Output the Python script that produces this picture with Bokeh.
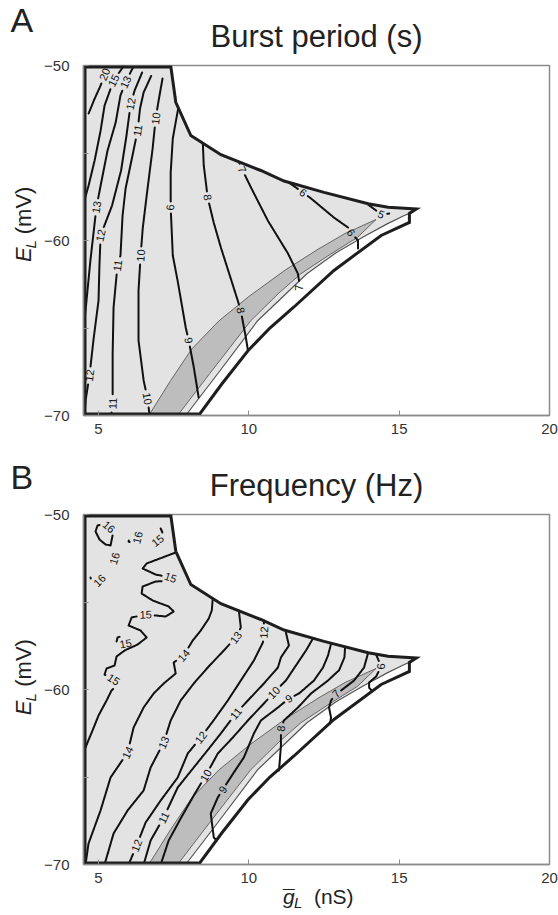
import numpy as np
from bokeh.plotting import figure
from bokeh.layouts import column, row
from bokeh.models import Range1d, FixedTicker, ColumnDataSource
from bokeh.core.properties import value
from bokeh.embed import file_html
from bokeh.resources import INLINE

# ---------------- axes ----------------
X_LIM = (4.5, 20.0)
Y_LIM = (-70.0, -50.0)
X_TICKS = [5, 10, 15, 20]
Y_TICKS = [-70, -60, -50]
Y_MINOR = [-65, -55]

# ---------------- region (same parameter domain in both panels) ----------------
UPPER_X = [7.4, 7.57, 8.07, 9.07, 10.4, 11.17, 12.5, 13.97, 14.63, 15.57]
UPPER_Y = [-50.0, -52.1, -54.0, -55.1, -56.0, -56.6, -57.25, -57.9, -58.1, -58.2]
INNER_X = [15.34, 15.17, 14.6, 13.8, 12.9, 11.93, 11.2, 10.3, 8.97, 7.9]
INNER_Y = [-58.45, -58.57, -59.05, -59.8, -60.7, -61.9, -63.1, -64.57, -67.6, -70.0]
OUTER_X = [15.34, 15.34, 14.4, 12.83, 11.5, 10.7, 9.97, 9.1, 8.33]
OUTER_Y = [-58.45, -58.97, -59.71, -61.71, -63.8, -65.0, -66.3, -68.2, -70.0]
BAND_UP_X = [6.67, 7.4, 8.1, 9.0, 10.0, 11.2, 12.3, 13.2, 14.23]
BAND_UP_Y = [-70.0, -68.0, -66.2, -64.6, -63.2, -61.7, -60.5, -59.6, -58.8]
BAND_LO_X = [7.63, 8.7, 10.07, 11.0, 11.73, 12.7, 13.62, 14.23]
BAND_LO_Y = [-70.0, -67.6, -64.57, -63.0, -61.9, -60.8, -59.81, -58.8]

# ---------------- panel A: burst period contours (s) ----------------
A20_X = [4.67, 4.87, 5.07, 5.2, 5.33]
A20_Y = [-52.74, -51.9, -51.14, -50.5, -50.05]
A15_X = [5.83, 5.5, 5.2, 5.07, 4.87, 4.67, 4.53]
A15_Y = [-50.05, -50.86, -52.29, -53.71, -55.43, -56.86, -57.71]
A13_X = [6.15, 5.9, 5.73, 5.57, 5.3, 5.07, 4.93, 4.73, 4.6, 4.5]
A13_Y = [-50.1, -50.95, -51.71, -53.26, -54.86, -56.86, -58.1, -61.14, -63.43, -65.1]
A12_X = [6.45, 6.2, 6.07, 5.93, 5.75, 5.45, 5.07, 5.03, 5.0, 4.83, 4.7, 4.57, 4.53]
A12_Y = [-50.4, -51.43, -52.19, -54.0, -56.0, -58.0, -59.71, -61.43, -63.43, -65.71, -67.71, -69.14, -70.0]
A11_X = [6.75, 6.5, 6.38, 6.3, 6.13, 5.9, 5.8, 5.73, 5.63, 5.5, 5.47, 5.47, 5.42]
A11_Y = [-50.6, -51.54, -52.46, -53.71, -55.14, -57.03, -58.57, -60.86, -61.43, -63.83, -66.46, -69.31, -70.0]
A10_X = [7.13, 7.07, 6.97, 6.9, 6.8, 6.63, 6.47, 6.4, 6.33, 6.33, 6.5, 6.63, 6.7]
A10_Y = [-50.74, -51.31, -52.29, -53.03, -54.74, -57.03, -59.31, -60.86, -62.86, -65.71, -68.0, -69.03, -70.0]
A9_X = [7.65, 7.47, 7.4, 7.4, 7.47, 7.63, 7.9, 8.0, 8.17, 8.33]
A9_Y = [-52.45, -54.17, -56.11, -58.11, -60.86, -62.29, -64.97, -65.71, -67.26, -68.97]
A8_X = [8.47, 8.5, 8.63, 8.83, 9.07, 9.63, 9.73, 9.9, 9.97]
A8_Y = [-54.45, -55.71, -57.54, -58.97, -60.4, -63.43, -64.0, -65.54, -66.29]
A7_X = [9.68, 9.78, 10.07, 10.63, 11.3, 11.63, 11.67, 11.67]
A7_Y = [-55.55, -55.95, -56.97, -58.86, -60.74, -61.89, -62.3, -62.69]
A6_X = [11.3, 11.8, 12.07, 12.83, 13.3, 13.4, 13.63, 13.63]
A6_Y = [-56.65, -57.26, -57.6, -58.69, -59.26, -59.54, -60.0, -60.46]
A5_X = [13.97, 14.4, 14.67]
A5_Y = [-57.95, -58.5, -58.46]

# ---------------- panel B: frequency contours (Hz) ----------------
B16A_X = [5.467, 5.433, 5.4, 5.233, 5.033, 4.9, 4.967, 5.2, 5.35, 5.45]
B16A_Y = [-51.2, -51.486, -51.771, -51.714, -51.429, -50.971, -50.629, -50.514, -50.7, -50.9]
B16B_X = [6.033, 6.0, 6.133, 6.267, 6.3, 6.33]
B16B_Y = [-51.257, -51.543, -51.657, -51.543, -51.314, -51.1]
B16C_X = [5.333, 5.233, 5.3, 5.467, 5.533, 5.55]
B16C_Y = [-52.343, -52.457, -52.686, -52.743, -52.514, -52.3]
B16D_X = [4.833, 4.733, 4.767, 4.933, 5.033, 5.1]
B16D_Y = [-53.486, -53.6, -53.829, -53.886, -53.771, -53.6]
B15_X = [7.567, 6.6, 6.467, 6.9, 7.4, 7.467, 6.9, 6.467, 6.433, 6.8, 7.333, 7.5, 7.233, 6.567,
         6.1, 6.0, 6.4, 6.6, 6.3, 5.867, 5.6, 5.533, 5.267, 5.2, 5.5, 5.667, 5.433, 5.267, 5.0,
         4.8, 4.633, 4.5]
B15_Y = [-52.171, -52.8, -53.086, -53.429, -53.6, -53.771, -53.829, -54.114, -54.514, -54.914,
         -55.257, -55.543, -55.829, -55.714, -55.886, -56.343, -56.629, -57.029, -57.429, -57.771,
         -58.114, -58.629, -58.8, -59.143, -59.429, -59.657, -60.057, -60.629, -61.486, -62.343,
         -63.029, -63.6]
B15B_X = [5.833, 5.633, 5.6, 5.9, 6.0]
B15B_Y = [-56.914, -57.029, -57.257, -57.371, -57.143]
B15C_X = [7.067, 7.167, 6.967, 6.733]
B15C_Y = [-50.8, -51.2, -51.486, -51.771]
B14_X = [8.8, 8.767, 8.667, 8.4, 8.133, 7.833, 7.5, 7.567, 7.167, 6.833, 6.5, 6.167, 5.967, 5.4,
         5.067, 4.667, 4.567]
B14_Y = [-54.8, -55.486, -55.943, -56.629, -57.2, -58.057, -58.457, -59.086, -59.657, -60.229,
         -61.029, -62.171, -63.6, -65.029, -66.914, -68.8, -70.0]
B13_X = [9.667, 9.733, 9.567, 9.167, 8.633, 8.167, 7.733, 7.4, 7.167, 6.733, 6.5, 5.967, 5.5, 5.2]
B13_Y = [-55.486, -56.457, -57.029, -57.771, -58.743, -59.657, -60.629, -61.771, -63.029, -64.457,
         -65.771, -66.914, -68.229, -70.0]
B12_X = [10.5, 10.5, 10.467, 10.167, 9.733, 9.3, 8.8, 8.4, 7.967, 7.633, 7.067, 6.567, 6.267, 6.0]
B12_Y = [-56.057, -56.743, -57.314, -58.343, -59.486, -60.629, -61.829, -62.743, -63.657, -65.029,
         -66.343, -67.6, -68.914, -70.0]
B11_X = [11.233, 11.333, 11.067, 10.967, 10.5, 9.967, 9.567, 9.067, 8.567, 8.167, 7.633, 7.167,
         6.733, 6.5]
B11_Y = [-56.743, -57.486, -58.171, -58.743, -59.657, -60.629, -61.371, -62.514, -63.6, -64.457,
         -65.6, -67.314, -68.629, -70.0]
B10_X = [12.133, 11.9, 11.633, 11.233, 10.833, 10.5, 9.967, 9.467, 8.967, 8.567, 8.167, 7.733,
         7.333, 7.067]
B10_Y = [-57.086, -57.771, -58.457, -59.486, -60.171, -60.8, -61.771, -62.743, -63.657, -64.914,
         -66.057, -67.371, -68.629, -70.0]
B9_X = [12.733, 12.633, 12.467, 12.167, 11.667, 11.333, 10.967, 10.4, 10.167, 9.833, 9.5, 9.133,
        8.967, 8.733, 8.833, 8.933]
B9_Y = [-57.4, -58.057, -58.743, -59.486, -60.229, -60.514, -61.029, -61.771, -62.514, -63.886,
        -64.743, -65.714, -66.171, -67.086, -68.457, -68.629]
B8_X = [13.2, 13.18, 13.0, 12.633, 12.067, 11.633, 11.167, 11.067, 11.067, 11.03, 11.0]
B8_Y = [-57.6, -58.17, -58.9, -59.486, -60.229, -61.029, -61.771, -62.229, -63.2, -64.06, -64.63]
B7_X = [13.967, 13.833, 13.5, 13.067, 12.9, 12.733, 12.667, 12.733, 12.7]
B7_Y = [-57.9, -58.743, -59.486, -60.057, -60.229, -60.629, -61.029, -61.6, -61.943]
B6_X = [14.233, 14.4, 14.233, 14.0, 14.0, 14.08]
B6_Y = [-58.0, -58.686, -59.257, -59.6, -59.9, -60.05]

# (level, x, y, indices of the points that carry the inline label)
CONTOURS_A = [
    (20, A20_X, A20_Y, [3]), (15, A15_X, A15_Y, [1]), (13, A13_X, A13_Y, [1, 6]),
    (12, A12_X, A12_Y, [2, 6, 10]), (11, A11_X, A11_Y, [3, 8, 11]),
    (10, A10_X, A10_Y, [3, 7, 11]), (9, A9_X, A9_Y, [3, 7]), (8, A8_X, A8_Y, [2, 6]),
    (7, A7_X, A7_Y, [1, 7]), (6, A6_X, A6_Y, [1, 5]), (5, A5_X, A5_Y, [1]),
]
CONTOURS_B = [
    (16, B16A_X, B16A_Y, [8]), (16, B16B_X, B16B_Y, [4]), (16, B16C_X, B16C_Y, [4]),
    (16, B16D_X, B16D_Y, [4]), (15, B15_X, B15_Y, [4, 13, 24]), (15, B15B_X, B15B_Y, [3]),
    (15, B15C_X, B15C_Y, [2]), (14, B14_X, B14_Y, [5, 12]), (13, B13_X, B13_Y, [2, 8]),
    (12, B12_X, B12_Y, [1, 7, 12]), (11, B11_X, B11_Y, [6, 11]), (10, B10_X, B10_Y, [4, 9]),
    (9, B9_X, B9_Y, [5, 11]), (8, B8_X, B8_Y, [7]), (7, B7_X, B7_Y, [4]), (6, B6_X, B6_Y, [1]),
]

# ---------------- layout constants (pixels) ----------------
PAGE_W = 558
YLAB_W = 40
BORDER_L = 43
BORDER_R = 9
FRAME_W = 466
FRAME_H = 350
MAIN_W = BORDER_L + FRAME_W + BORDER_R
KX = FRAME_W / (X_LIM[1] - X_LIM[0])
KY = FRAME_H / (Y_LIM[1] - Y_LIM[0])
FONT = "Liberation Sans"
INK = "#222222"
MID = 0.3  # distance (in em) from the alphabetic baseline up to the "middle" anchor


def label_specs(xs, ys, idxs, level):
    out = []
    n = len(xs)
    for i in idxs:
        i0, i1 = max(i - 1, 0), min(i + 1, n - 1)
        a = np.arctan2((ys[i1] - ys[i0]) * KY, (xs[i1] - xs[i0]) * KX)
        if a > np.pi / 2:
            a -= np.pi
        if a <= -np.pi / 2:
            a += np.pi
        out.append((xs[i], ys[i], a, str(level)))
    return out


def gapped(xs, ys, labels):
    xs = np.asarray(xs, float)
    ys = np.asarray(ys, float)
    dx, dy = [], []
    for k in range(len(xs) - 1):
        seg = np.hypot((xs[k + 1] - xs[k]) * KX, (ys[k + 1] - ys[k]) * KY)
        n = max(int(seg), 1)
        t = np.arange(n) / n
        dx.extend(xs[k] + t * (xs[k + 1] - xs[k]))
        dy.extend(ys[k] + t * (ys[k + 1] - ys[k]))
    dx.append(xs[-1])
    dy.append(ys[-1])
    dx, dy = np.array(dx), np.array(dy)
    keep = np.ones(len(dx), bool)
    for lx, ly, _, txt in labels:
        r = 3.2 * len(txt) + 2.5
        keep &= np.hypot((dx - lx) * KX, (dy - ly) * KY) > r
    runs_x, runs_y = [], []
    cur_x, cur_y = [], []
    for k in range(len(dx)):
        if keep[k]:
            cur_x.append(dx[k])
            cur_y.append(dy[k])
        else:
            if len(cur_x) > 1:
                runs_x.append(cur_x)
                runs_y.append(cur_y)
            cur_x, cur_y = [], []
    if len(cur_x) > 1:
        runs_x.append(cur_x)
        runs_y.append(cur_y)
    return runs_x, runs_y


def text_canvas(w, h):
    """A blank figure whose frame is the whole canvas, used to hold text (pixel units)."""
    p = figure(width=w, height=h, x_range=Range1d(0, w), y_range=Range1d(0, h),
               x_axis_type=None, y_axis_type=None, output_backend="svg",
               toolbar_location=None, min_border=0, title=None)
    p.grid.visible = False
    p.outline_line_color = None
    p.background_fill_color = "white"
    p.border_fill_color = "white"
    return p


def put(p, x, y, txt, size_px, style="normal", align="left", angle=0.0):
    """Place text whose alphabetic baseline passes through (x, y) (pixel units, y up)."""
    off = MID * size_px
    ax, ay = x - off * np.sin(angle), y + off * np.cos(angle)
    p.text([ax], [ay], text=[txt], angle=angle, text_font=value(FONT),
           text_font_size=f"{size_px}px", text_font_style=style, text_color=INK,
           text_align=align, text_baseline="middle")


def header(h, letter, letter_base, title, title_base):
    p = text_canvas(PAGE_W, h)
    put(p, 10, h - letter_base, letter, 34)
    put(p, YLAB_W + BORDER_L + FRAME_W / 2, h - title_base, title, 31, align="center")
    return p


def ylabel_canvas(h, center_from_top):
    p = text_canvas(YLAB_W, h)
    yc = h - center_from_top
    base = yc - 38
    put(p, 30, base, "E", 22, style="italic", angle=np.pi / 2)
    put(p, 34, base + 15, "L", 15, style="italic", angle=np.pi / 2)
    put(p, 30, base + 31, "(mV)", 22, angle=np.pi / 2)
    return p


def main_panel(top, bottom, contours):
    p = figure(width=MAIN_W, height=top + FRAME_H + bottom, x_range=Range1d(*X_LIM),
               y_range=Range1d(*Y_LIM), output_backend="svg", toolbar_location=None,
               min_border_left=BORDER_L, min_border_right=BORDER_R,
               min_border_top=top, min_border_bottom=bottom, title=None)
    p.xgrid.visible = False
    p.ygrid.visible = False
    p.background_fill_color = "white"
    p.border_fill_color = "white"
    p.outline_line_color = "#8c8c8c"
    p.outline_line_width = 1.5

    p.xaxis.ticker = FixedTicker(ticks=X_TICKS)
    p.yaxis.ticker = FixedTicker(ticks=Y_TICKS, minor_ticks=Y_MINOR)
    for ax in (p.xaxis[0], p.yaxis[0]):
        ax.axis_line_color = "#8c8c8c"
        ax.axis_line_width = 1.5
        ax.major_tick_in = 5
        ax.major_tick_out = 0
        ax.minor_tick_in = 5
        ax.minor_tick_out = 0
        ax.major_tick_line_color = "#8c8c8c"
        ax.minor_tick_line_color = "#8c8c8c"
        ax.major_label_text_font = FONT
        ax.major_label_text_font_size = "15px"
        ax.major_label_text_color = "#333333"
    p.xaxis.major_label_standoff = 8
    p.yaxis.major_label_standoff = 14

    # light gray bursting region
    lg_x = [4.5, 4.5] + UPPER_X + INNER_X + [4.5]
    lg_y = [-70.0, -50.0] + UPPER_Y + INNER_Y + [-70.0]
    p.patch(lg_x, lg_y, fill_color="#e3e3e3", line_color=None)
    # darker band
    band_x = BAND_UP_X + BAND_LO_X[::-1][1:]
    band_y = BAND_UP_Y + BAND_LO_Y[::-1][1:]
    p.patch(band_x, band_y, fill_color="#bdbdbd", line_color="#666666", line_width=1)
    p.line(INNER_X, INNER_Y, line_color="#555555", line_width=1.2)

    # contours with inline labels
    all_labels = []
    mx, my = [], []
    for level, xs, ys, idxs in contours:
        labs = label_specs(xs, ys, idxs, level)
        all_labels += labs
        rx, ry = gapped(xs, ys, labs)
        mx += rx
        my += ry
    p.multi_line(mx, my, line_color="#111111", line_width=2, line_join="round", line_cap="round")

    # outer boundary
    p.line(UPPER_X + OUTER_X, UPPER_Y + OUTER_Y, line_color="#1e1e1e", line_width=3,
           line_join="miter")
    p.line([7.4, 4.5, 4.5, 8.33], [-50.0, -50.0, -70.0, -70.0], line_color="#1e1e1e",
           line_width=6, line_join="miter")

    src = ColumnDataSource(dict(x=[l[0] for l in all_labels], y=[l[1] for l in all_labels],
                                a=[l[2] for l in all_labels], t=[l[3] for l in all_labels]))
    p.text("x", "y", text="t", angle="a", source=src, text_align="center",
           text_baseline="middle", text_font=value(FONT), text_font_size="11px",
           text_color="#111111")
    return p


# panel A: page rows 0-55 header, 55-445 plot
HEAD_A = 55
TOP_A, BOT_A = 10, 30
# panel B: 445-504 header, 504-886 plot, 886-913 x label
HEAD_B = 59
TOP_B, BOT_B = 10, 22
XLAB_H = 27

# baselines measured from the top of each header strip
head_a = header(HEAD_A, "A", 30, "Burst period (s)", 45)
main_a = main_panel(TOP_A, BOT_A, CONTOURS_A)
ylab_a = ylabel_canvas(TOP_A + FRAME_H + BOT_A, 236 - HEAD_A)

head_b = header(HEAD_B, "B", 487 - 445, "Frequency (Hz)", 494 - 445)
main_b = main_panel(TOP_B, BOT_B, CONTOURS_B)
ylab_b = ylabel_canvas(TOP_B + FRAME_H + BOT_B, 685 - 504)

xlab = text_canvas(PAGE_W, XLAB_H)
gx = YLAB_W + BORDER_L + (11.133 - X_LIM[0]) * KX
gb = XLAB_H - (902 - 886)
put(xlab, gx, gb, "g", 21, style="italic")
put(xlab, gx + 6, gb, "\u00af", 21, align="center")
put(xlab, gx + 11, gb - 4, "L", 15, style="italic")
put(xlab, gx + 31, gb, "(nS)", 21)

layout = column(head_a, row(ylab_a, main_a), head_b, row(ylab_b, main_b), xlab)
open("out.html", "w").write(file_html(layout, INLINE))
